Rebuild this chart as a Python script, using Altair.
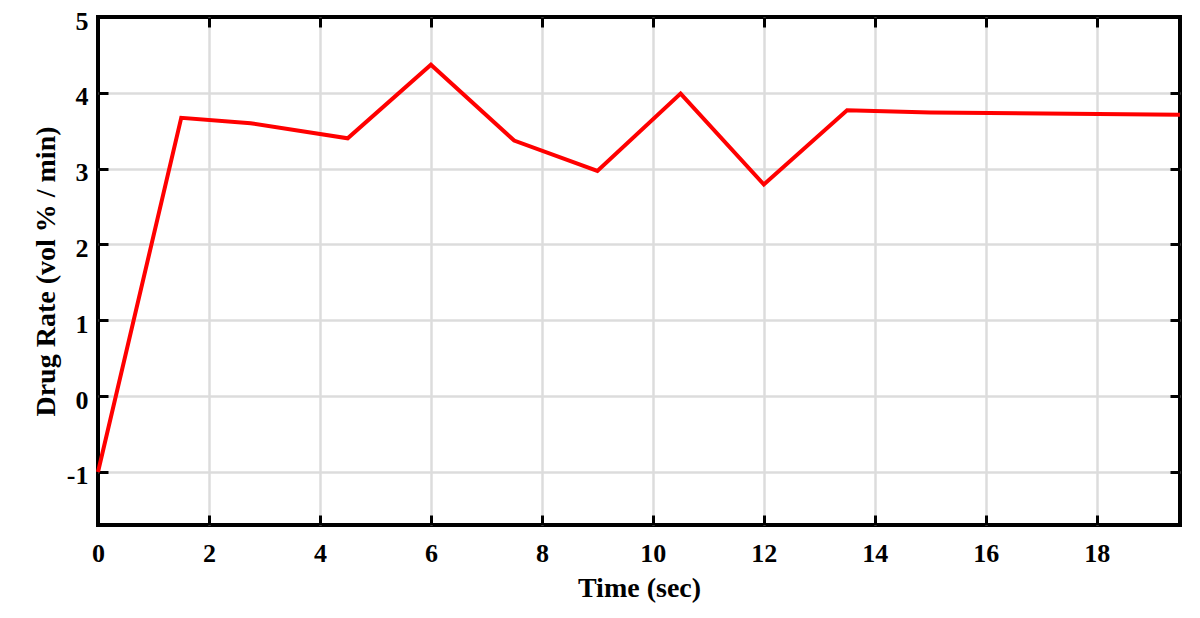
import altair as alt
import pandas as pd

time_sec = [0, 1.5, 2.75, 4.5, 6, 7.5, 9, 10.5, 12, 13.5, 15, 19.5]
drug_rate = [-1.0, 3.67, 3.60, 3.40, 4.37, 3.37, 2.97, 3.99, 2.79, 3.77, 3.74, 3.71]
x_ticks = [0, 2, 4, 6, 8, 10, 12, 14, 16, 18]
y_ticks = [-1, 0, 1, 2, 3, 4, 5]

df = pd.DataFrame({"t": time_sec, "r": drug_rate})

FONT = "Liberation Serif"
TICK = 10
LBL = 26
TTL = 28

xscale = alt.Scale(domain=[0, 19.5], nice=False, zero=False)
yscale = alt.Scale(domain=[-1.7, 5], nice=False, zero=False)

base = alt.Chart(df)

common = dict(offset=-TICK, tickSize=TICK, tickWidth=3, tickColor="black", domain=False)

line = base.mark_line(color="#ff0000", strokeWidth=4).encode(
    x=alt.X("t:Q", scale=xscale,
            axis=alt.Axis(orient="bottom", values=x_ticks, title="Time (sec)",
                          grid=True, gridColor="#dcdcdc", gridWidth=2.5,
                          gridOpacity={"condition": {"test": "datum.value == 0", "value": 0}, "value": 1},
                          labelFont=FONT, labelFontSize=LBL, labelFontWeight="bold",
                          labelColor="black", labelPadding=15, labelFlush=False,
                          labelExpr="'' + datum.value",
                          titleFont=FONT, titleFontSize=TTL, titleFontWeight="bold",
                          titleColor="black", titlePadding=8, **common)),
    y=alt.Y("r:Q", scale=yscale,
            axis=alt.Axis(orient="left", values=y_ticks, title="Drug Rate (vol % / min)",
                          grid=True, gridColor="#dcdcdc", gridWidth=2.5,
                          gridOpacity={"condition": {"test": "datum.value == 5", "value": 0}, "value": 1},
                          labelFont=FONT, labelFontSize=LBL, labelFontWeight="bold",
                          labelColor="black", labelPadding=10, labelFlush=False,
                          labelOffset=4,
                          labelExpr="'' + datum.value",
                          titleFont=FONT, titleFontSize=TTL, titleFontWeight="bold",
                          titleColor="black", titlePadding=6, **common)),
)

mirror = base.mark_line(strokeOpacity=0).encode(
    x=alt.X("t:Q", scale=xscale,
            axis=alt.Axis(orient="top", values=x_ticks, title=None, labels=False,
                          grid=False, **common)),
    y=alt.Y("r:Q", scale=yscale,
            axis=alt.Axis(orient="right", values=y_ticks, title=None, labels=False,
                          grid=False, **common)),
)

chart = alt.layer(line, mirror).resolve_axis(x="independent", y="independent").properties(
    width=1082, height=508,
    autosize=alt.AutoSizeParams(type="none"),
    padding={"left": 90, "top": 9, "right": 12, "bottom": 85},
).configure(background="white").configure_view(stroke="black", strokeWidth=4)

chart.save("out.html", embed_options={"renderer": "svg", "actions": False})
